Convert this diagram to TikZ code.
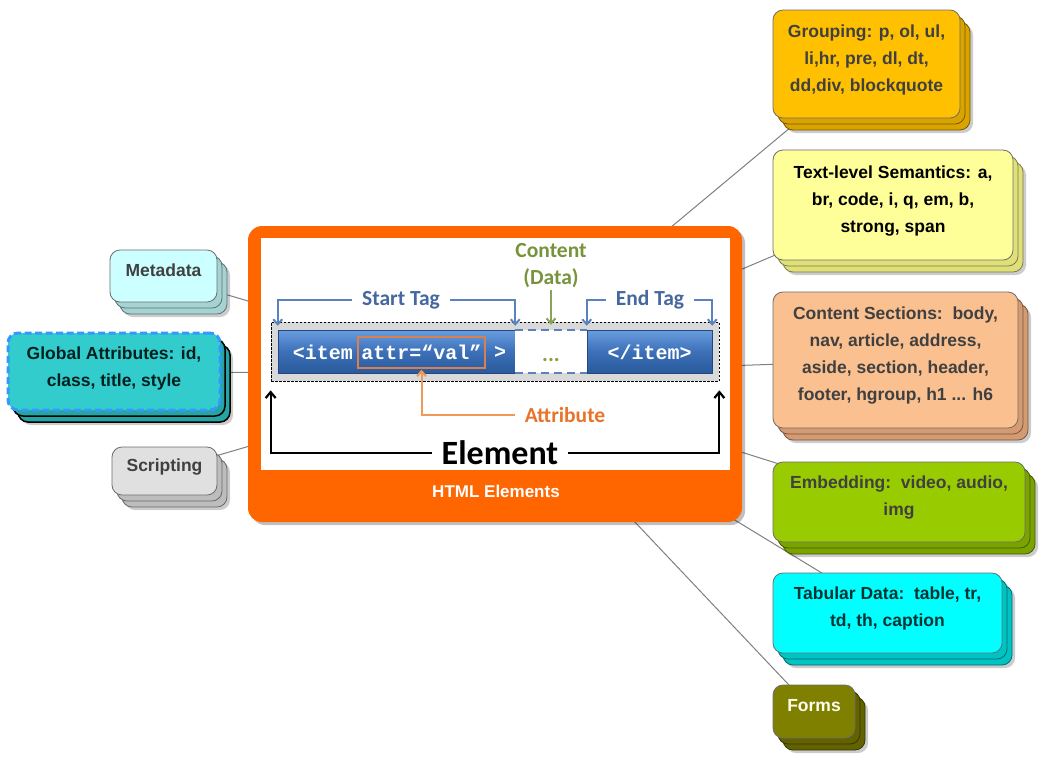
\documentclass[tikz,border=0pt]{standalone}
\usepackage{fontspec}
\setmainfont{Liberation Sans}
\newfontfamily\calib{Carlito}
\newfontfamily\monof{Liberation Mono}
\usetikzlibrary{shadows,arrows.meta,backgrounds}

\definecolor{orangemain}{HTML}{FF6600}
\definecolor{textgray}{HTML}{404040}
\definecolor{connline}{HTML}{808080}
\definecolor{tagblue}{HTML}{46689E}
\definecolor{tagline}{HTML}{5B82BD}
\definecolor{greenlbl}{HTML}{77933C}
\definecolor{attrtxt}{HTML}{E8742A}
\definecolor{attrline}{HTML}{F09A5A}
\definecolor{attrbox}{HTML}{D98050}
\definecolor{barTop}{HTML}{6A9DE0}
\definecolor{barMid}{HTML}{3C70B8}
\definecolor{barBot}{HTML}{2A5A9C}
\definecolor{grpfill}{HTML}{FFC000}
\definecolor{grpback}{HTML}{D9A300}
\definecolor{txtfill}{HTML}{FFFF99}
\definecolor{txtback}{HTML}{E0E07A}
\definecolor{secfill}{HTML}{FAC090}
\definecolor{secback}{HTML}{D49A72}
\definecolor{embfill}{HTML}{99CC00}
\definecolor{embback}{HTML}{7AA300}
\definecolor{tabfill}{HTML}{00FFFF}
\definecolor{tabback}{HTML}{00C4C4}
\definecolor{frmfill}{HTML}{808000}
\definecolor{frmback}{HTML}{626200}
\definecolor{metfill}{HTML}{CCFFFF}
\definecolor{metback}{HTML}{A6D2D2}
\definecolor{glbfill}{HTML}{33CCCC}
\definecolor{glbback}{HTML}{26A3A3}
\definecolor{glbdash}{HTML}{3399FF}
\definecolor{scrfill}{HTML}{E0E0E0}
\definecolor{scrback}{HTML}{BDBDBD}
\definecolor{dotgreen}{HTML}{8AA040}

\tikzset{
  card/.style 2 args={rectangle, rounded corners=10pt, draw=gray!85!black,
    line width=0.8pt, fill=#1, align=center, text=textgray,
    font=\fontsize{17.5}{27}\selectfont\bfseries, inner sep=2pt, text depth=12pt,
    drop shadow={shadow xshift=13pt, shadow yshift=-15pt, fill=black, opacity=0.2, draw=none},
    copy shadow={shadow xshift=10pt, shadow yshift=-12pt, fill=#2, draw=#2!55!black, solid, line width=0.8pt},
    copy shadow={shadow xshift=5pt, shadow yshift=-6pt, fill=#2, draw=#2!55!black, solid, line width=0.8pt}},
  conn/.style={draw=connline, line width=1pt},
  bar/.style={rectangle, top color=barTop, bottom color=barBot, middle color=barMid,
    draw=barBot!80!black, line width=0.5pt, inner sep=0pt, minimum height=43pt},
  monotxt/.style={text=white, font=\monof\bfseries\fontsize{20}{22}\selectfont, inner sep=0pt},
  lbl/.style={font=\calib\bfseries\fontsize{21.5}{27}\selectfont, inner xsep=10pt, inner ysep=2pt, align=center},
  bracket/.style={draw=tagline, line width=2pt, -{Straight Barb[length=5pt,width=9pt]}, shorten >=4pt},
}

\begin{document}
\begin{tikzpicture}[x=1pt,y=-1pt]
\begin{pgfonlayer}{background}
\fill[white] (0,0) rectangle (1051,764);
\end{pgfonlayer}
\path[use as bounding box] (0,0) rectangle (1051,764);

% central box
\node[fill=orangemain, rounded corners=14pt, minimum width=494pt, minimum height=296pt, inner sep=0pt,
  drop shadow={shadow xshift=3pt, shadow yshift=-3pt, fill=black, opacity=0.25}] (html) at (495,374) {};
\node[fill=white, minimum width=469pt, minimum height=232pt, inner sep=0pt] (panel) at (495.5,354) {};
\node[text=white, font=\fontsize{17}{20}\selectfont\bfseries] (htmllbl) at (496,491) {HTML Elements};

% element strip
\node[draw=black, dash pattern=on 2.5pt off 1.5pt, line width=0.7pt, fill=gray!30,
  minimum width=448pt, minimum height=59pt, inner sep=0pt] (elem) at (495,351.5) {};
\node[bar, minimum width=237pt] (stag) at (396.5,351.5) {};
\node[fill=white, minimum width=72pt, minimum height=43pt, inner sep=0pt] (content) at (551,351.5) {};
\node[bar, minimum width=125pt] (etag) at (649.5,351.5) {};
\draw[draw=tagline, line width=1.6pt, dash pattern=on 8pt off 5pt] (content.north west) -- (content.north east);
\draw[draw=tagline, line width=1.6pt, dash pattern=on 8pt off 5pt] (content.south west) -- (content.south east);

\node[monotxt] (itemtxt) at (323,352) {<item};
\node[monotxt, draw=attrbox, line width=1.5pt, minimum width=127pt, minimum height=31pt] (attr) at (421.5,352.5) {attr=“val”};
\node[monotxt] (gt) at (500,352) {>};
\node[monotxt] (etagtxt) at (649.5,352) {</item>};
\node[text=dotgreen, font=\calib\bfseries\fontsize{22}{24}\selectfont, inner sep=0pt] (dots) at (551,360) {...};

% labels
\node[lbl, text=tagblue] (starttag) at (401,300) {Start Tag};
\node[lbl, text=tagblue] (endtag) at (650,300) {End Tag};
\node[lbl, text=greenlbl] (contentlbl) at (551,265.5) {Content\\(Data)};
\node[lbl, text=attrtxt] (attrlbl) at (565,415) {Attribute};
\node[lbl, text=black, font=\calib\bfseries\fontsize{34}{36}\selectfont] (elemlbl) at (500,453) {Element};

\draw[bracket] (starttag.west) -| (stag.north west);
\draw[bracket] (starttag.east) -| (stag.north east);
\draw[bracket] (endtag.west) -| (etag.north west);
\draw[bracket] (endtag.east) -| (etag.north east);
\draw[draw=greenlbl!85, line width=2pt, -{Straight Barb[length=5pt,width=9pt]}, shorten >=5pt] (contentlbl.south) -- (content.north);
\draw[draw=attrline, line width=2pt, -{Straight Barb[length=5pt,width=9pt]}, shorten >=1pt] (attrlbl.west) -| (attr.south);
\draw[draw=black, line width=2.2pt, -{Straight Barb[length=6pt,width=10pt]}, shorten >=9pt] (elemlbl.west) -| (elem.south west);
\draw[draw=black, line width=2.2pt, -{Straight Barb[length=6pt,width=10pt]}, shorten >=9pt] (elemlbl.east) -| (elem.south east);

% right cards
\node[card={grpfill}{grpback}, minimum width=187pt, minimum height=108pt] (grouping) at (866.5,64)
  {Grouping: p, ol, ul,\\li,hr, pre, dl, dt,\\dd,div, blockquote};
\node[card={txtfill}{txtback}, text=black, minimum width=240pt, minimum height=110pt] (textlevel) at (893,205)
  {Text-level Semantics: a,\\br, code, i, q, em, b,\\strong, span};
\node[card={secfill}{secback}, minimum width=245pt, minimum height=136pt] (sections) at (895.5,360)
  {Content Sections:\ \ body,\\nav, article, address,\\aside, section, header,\\footer, hgroup, h1 ... h6};
\node[card={embfill}{embback}, minimum width=252pt, minimum height=80pt] (embedding) at (899,502)
  {Embedding:\ \ video, audio,\\img};
\node[card={tabfill}{tabback}, text=black!60!teal, minimum width=229pt, minimum height=80pt] (tabular) at (887.5,613)
  {Tabular Data:\ \ table, tr,\\td, th, caption};
\node[card={frmfill}{frmback}, text=white!94!yellow, minimum width=82pt, minimum height=53pt] (forms) at (814,711.5)
  {Forms};

% left cards
\node[card={metfill}{metback}, minimum width=107pt, minimum height=52pt] (metadata) at (163.5,276)
  {Metadata};
\node[card={glbfill}{glbback}, draw=glbdash, line width=3pt, dash pattern=on 7pt off 3.5pt,
  copy shadow={shadow xshift=10pt, shadow yshift=-12pt, fill=glbback, draw=black, solid, line width=1.5pt},
  copy shadow={shadow xshift=5pt, shadow yshift=-6pt, fill=glbback, draw=black, solid, line width=1.5pt},
  text=black!75!teal, text depth=9pt, minimum width=212pt, minimum height=77pt] (global) at (114,371.5)
  {Global Attributes: id,\\class, title, style};
\node[card={scrfill}{scrback}, minimum width=105pt, minimum height=48pt] (scripting) at (164.5,471)
  {Scripting};

\begin{pgfonlayer}{background}
\foreach \n in {grouping,textlevel,sections,embedding,tabular,forms,metadata,global,scripting}
  \draw[conn] (html.center) -- (\n.center);
\end{pgfonlayer}
\end{tikzpicture}
\end{document}
